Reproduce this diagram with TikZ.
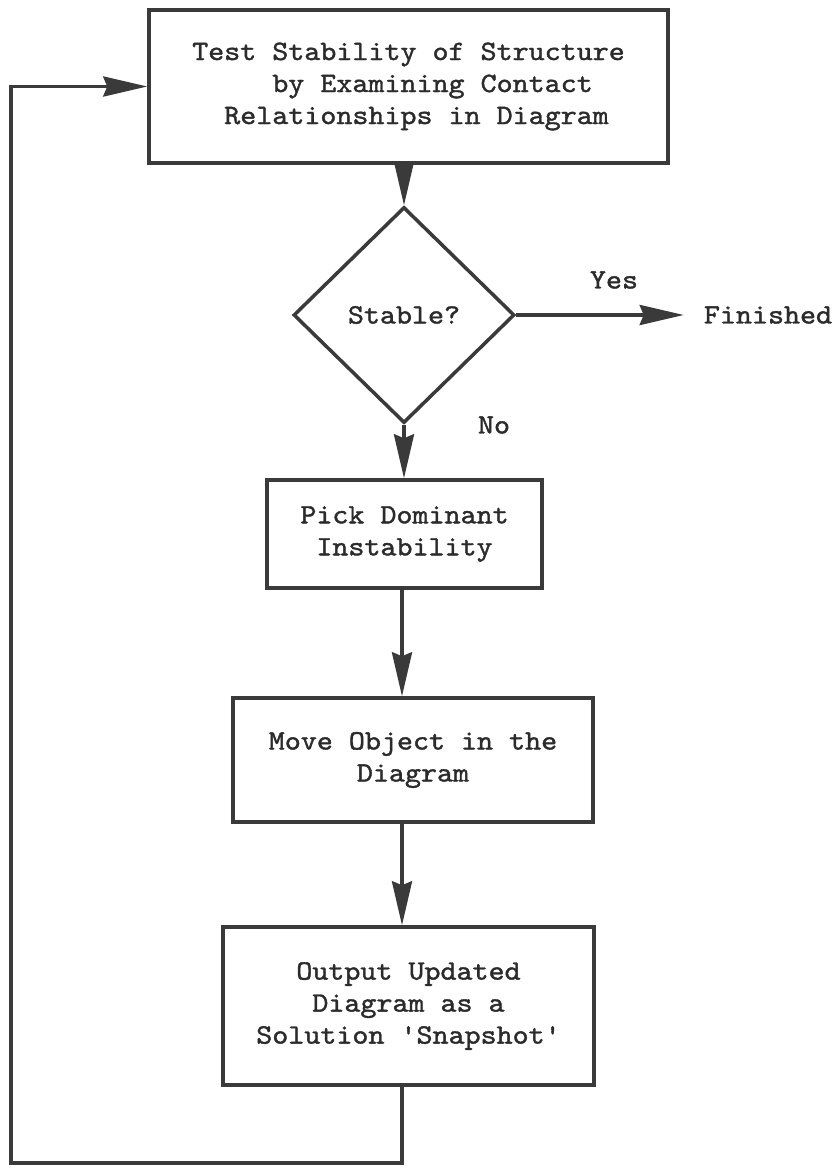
\documentclass[tikz,border=0pt]{standalone}
\usepackage{fontspec}
\setmonofont{lmmono10-regular.otf}[FakeBold=1.3]
\usepackage{graphicx}
\usetikzlibrary{arrows.meta,shapes.geometric}
\definecolor{ink}{HTML}{3A3A3A}
\definecolor{txt}{HTML}{2B2B2B}
\newcommand{\tws}[1]{\scalebox{1.09}[1]{#1}}
\tikzset{
  box/.style={draw=ink, line width=3.5pt, inner sep=0pt,
    font=\ttfamily\fontsize{28}{32}\selectfont, text=txt, align=center},
  dec/.style={box, shape=diamond, aspect=1},
  lbl/.style={font=\ttfamily\fontsize{28}{32}\selectfont, text=txt, inner sep=0pt},
  conn/.style={draw=ink, line width=3.5pt},
  arr/.style={conn, -{Stealth[length=44pt,width=20pt,inset=4pt]}},
}
\begin{document}
\begin{tikzpicture}[x=1pt,y=-1pt]
\useasboundingbox[fill=white] (0,0) rectangle (834,1170);
\coordinate (col) at (402,0);
\coordinate (bl) at (11,1163);
\node[box, minimum width=519pt, minimum height=153pt, align=left] (test) at (408.5,86.5)
  {\tws{Test Stability of Structure}\\\tws{\ \ \ \ \ by Examining Contact}\\\tws{\ \ Relationships in Diagram}};
\node[dec, minimum width=221pt, minimum height=216pt] (dia) at (404,315) {\tws{Stable?}};
\node[lbl, inner xsep=20pt] (fin) at (768,315) {\tws{Finished}};
\node[lbl] (yes) at (614,280) {\tws{Yes}};
\node[lbl] (no) at (494,425) {\tws{No}};
\node[box, minimum width=275pt, minimum height=108pt] (pick) at (404.5,534)
  {\tws{Pick Dominant}\\\tws{Instability}};
\node[box, minimum width=360pt, minimum height=124pt] (move) at (413,760)
  {\tws{Move Object in the}\\\tws{Diagram}};
\node[box, minimum width=371pt, minimum height=158pt] (out) at (408.5,1006)
  {\tws{Output Updated}\\\tws{Diagram as a}\\\tws{Solution \textquotesingle Snapshot\textquotesingle}};
\draw[arr] (test.south -| dia.north) -- (dia.north);
\draw[arr] (dia.east) -- (fin.west);
\draw[arr] (dia.south) -- (dia.south |- pick.north);
\draw[arr] (pick.south -| col) -- (move.north -| col);
\draw[arr] (move.south -| col) -- (out.north -| col);
\draw[arr] (out.south -| col) |- (bl) |- (test.west);
\end{tikzpicture}
\end{document}
